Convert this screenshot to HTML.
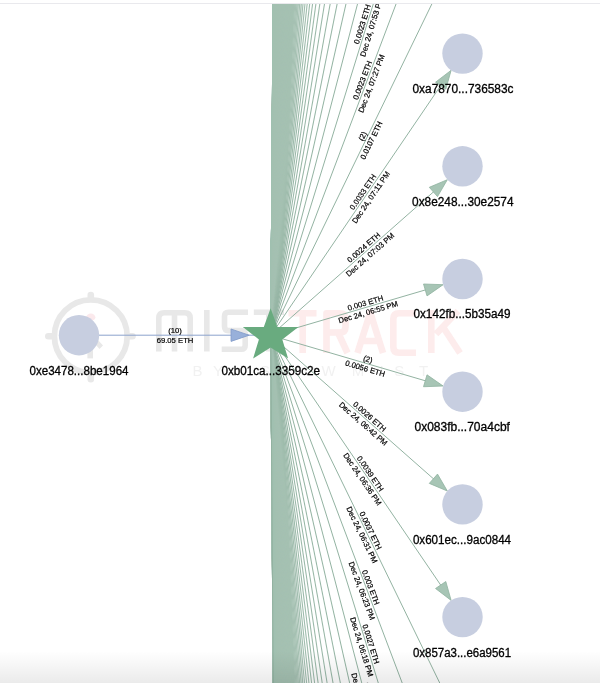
<!DOCTYPE html>
<html><head><meta charset="utf-8"><title>graph</title>
<style>html,body{margin:0;padding:0;background:#fff;}body{width:600px;height:683px;overflow:hidden;position:relative;font-family:"Liberation Sans",sans-serif;}svg{position:absolute;left:0;top:0;display:block;will-change:transform;}text{font-family:"Liberation Sans",sans-serif;}</style>
</head><body>
<svg width="600" height="683" viewBox="0 0 600 683">
<defs><clipPath id="clip"><rect x="0" y="4" width="600" height="679"/></clipPath>
<linearGradient id="fade" x1="0" y1="0" x2="0" y2="1"><stop offset="0" stop-color="#000" stop-opacity="0"/><stop offset="1" stop-color="#000" stop-opacity="0.08"/></linearGradient>
</defs>
<rect width="600" height="683" fill="#fff"/>
<rect x="0" y="3" width="600" height="1" fill="#e9e9ed"/>
<g clip-path="url(#clip)">
<g id="wm">
<circle cx="90.8" cy="336.2" r="36.4" fill="none" stroke="#e8e8e8" stroke-width="5.8"/>
<g stroke="#e8e8e8" stroke-width="6.6" stroke-linecap="round"><line x1="90.8" y1="297" x2="90.8" y2="295"/><line x1="90.8" y1="375.4" x2="90.8" y2="379.2"/><line x1="51.6" y1="336.2" x2="48.3" y2="336.2"/><line x1="130" y1="336.2" x2="132.5" y2="336.2"/></g>
<ellipse cx="90.8" cy="317.2" rx="4.6" ry="3.6" fill="#fbe9ec"/>
<path d="M97.5 339.5 L103 345.5 L99.5 349 L94 343 Z" fill="#e8e8e8"/>
<rect x="87.4" y="348" width="5.6" height="10.4" fill="#e8e8e8"/>
<g fill="none" stroke="#e8e8e8" stroke-width="5.6" stroke-linejoin="round">
<path d="M158.8 351.5 V318.3 Q158.8 312.8 164.3 312.8 H184.7 Q190.2 312.8 190.2 318.3 V351.5 M174.5 312.8 V351.5"/>
<path d="M206.8 310 V351.5"/>
<path d="M248 312.3 H228.5 Q224.5 312.3 224.5 316.3 V326.6 Q224.5 330.6 228.5 330.6 H241.2 Q245.2 330.6 245.2 334.6 V345.3 Q245.2 349.3 241.2 349.3 H221.7"/>
<path d="M253.8 312.3 H284 M268.8 312.3 V351.5"/>
</g>
<g fill="none" stroke="#fdecec" stroke-width="6.6" stroke-linejoin="round">
<path d="M288.5 313.3 H316.5 M302.7 313.3 V353"/>
<path d="M326.5 353 V313.3 H340 Q345.5 313.3 345.5 319 V327 Q345.5 332.5 340 332.5 H326.5 M338 332.5 L347.5 353"/>
<path d="M357.5 353 L370.3 312.5 L383 353 M362 341 H379"/>
<path d="M416 313.3 H399 Q393.3 313.3 393.3 319 V347 Q393.3 352.7 399 352.7 H416"/>
<path d="M431.3 310 V353 M458 311 L436 334 M443 327 L460 353"/>
</g>
<g font-size="15" fill="#f1f1f1" text-anchor="middle">
<text x="197.4" y="376.2">B</text>
<text x="217.9" y="376.2">Y</text>
<text x="265" y="376.2">S</text>
<text x="288" y="376.2">L</text>
<text x="310" y="376.2">O</text>
<text x="328.5" y="376.2">W</text>
<text x="358" y="376.2">M</text>
<text x="381.5" y="376.2">I</text>
<text x="399.3" y="376.2">S</text>
<text x="423.7" y="376.2">T</text>
</g>
</g>
<polygon points="270.30,335.40 270.80,335.40 272.04,334.90 272.55,334.40 273.27,333.40 273.83,332.40 274.30,331.40 275.75,327.40 276.86,323.40 277.80,319.40 278.63,315.40 279.37,311.40 280.06,307.40 280.70,303.40 281.30,299.40 281.87,295.40 282.41,291.40 282.92,287.40 283.42,283.40 283.90,279.40 284.36,275.40 284.80,271.40 285.23,267.40 285.65,263.40 286.06,259.40 286.45,255.40 286.84,251.40 287.22,247.40 287.59,243.40 287.95,239.40 288.30,235.40 288.65,231.40 288.99,227.40 289.32,223.40 289.65,219.40 289.97,215.40 290.29,211.40 290.60,207.40 290.91,203.40 291.21,199.40 291.51,195.40 291.80,191.40 292.09,187.40 292.38,183.40 292.66,179.40 292.94,175.40 293.21,171.40 293.48,167.40 293.75,163.40 294.02,159.40 294.28,155.40 294.54,151.40 294.79,147.40 295.05,143.40 295.30,139.40 295.55,135.40 295.79,131.40 296.04,127.40 296.28,123.40 296.52,119.40 296.76,115.40 296.99,111.40 297.22,107.40 297.46,103.40 297.68,99.40 297.91,95.40 298.14,91.40 298.36,87.40 298.58,83.40 298.80,79.40 299.02,75.40 299.23,71.40 299.45,67.40 299.66,63.40 299.87,59.40 300.08,55.40 300.29,51.40 300.50,47.40 300.70,43.40 300.91,39.40 301.11,35.40 301.31,31.40 301.51,27.40 301.71,23.40 301.91,19.40 302.10,15.40 302.30,11.40 302.49,7.40 302.69,3.40 302.88,-0.60 303.07,-4.60 272.69,-4.60" fill="#a5c1b2" fill-opacity="0.25"/>
<polygon points="270.30,335.40 270.80,335.40 272.04,335.90 272.55,336.40 273.27,337.40 273.83,338.40 274.30,339.40 275.75,343.40 276.86,347.40 277.80,351.40 278.63,355.40 279.37,359.40 280.06,363.40 280.70,367.40 281.30,371.40 281.87,375.40 282.41,379.40 282.92,383.40 283.42,387.40 283.90,391.40 284.36,395.40 284.80,399.40 285.23,403.40 285.65,407.40 286.06,411.40 286.45,415.40 286.84,419.40 287.22,423.40 287.59,427.40 287.95,431.40 288.30,435.40 288.65,439.40 288.99,443.40 289.32,447.40 289.65,451.40 289.97,455.40 290.29,459.40 290.60,463.40 290.91,467.40 291.21,471.40 291.51,475.40 291.80,479.40 292.09,483.40 292.38,487.40 292.66,491.40 292.94,495.40 293.21,499.40 293.48,503.40 293.75,507.40 294.02,511.40 294.28,515.40 294.54,519.40 294.79,523.40 295.05,527.40 295.30,531.40 295.55,535.40 295.79,539.40 296.04,543.40 296.28,547.40 296.52,551.40 296.76,555.40 296.99,559.40 297.22,563.40 297.46,567.40 297.68,571.40 297.91,575.40 298.14,579.40 298.36,583.40 298.58,587.40 298.80,591.40 299.02,595.40 299.23,599.40 299.45,603.40 299.66,607.40 299.87,611.40 300.08,615.40 300.29,619.40 300.50,623.40 300.70,627.40 300.91,631.40 301.11,635.40 301.31,639.40 301.51,643.40 301.71,647.40 301.91,651.40 302.10,655.40 302.30,659.40 302.49,663.40 302.69,667.40 302.88,671.40 303.07,675.40 303.26,679.40 303.45,683.40 303.63,687.40 272.77,687.40" fill="#a5c1b2" fill-opacity="0.25"/>
<polygon points="270.30,335.40 270.80,335.40 271.86,334.90 272.30,334.40 272.92,333.40 273.40,332.40 273.80,331.40 275.04,327.40 276.00,323.40 276.80,319.40 277.51,315.40 278.15,311.40 278.74,307.40 279.29,303.40 279.80,299.40 280.29,295.40 280.75,291.40 281.19,287.40 281.62,283.40 282.02,279.40 282.42,275.40 282.80,271.40 283.17,267.40 283.53,263.40 283.88,259.40 284.22,255.40 284.55,251.40 284.87,247.40 285.19,243.40 285.50,239.40 285.80,235.40 286.10,231.40 286.39,227.40 286.67,223.40 286.96,219.40 287.23,215.40 287.50,211.40 287.77,207.40 288.03,203.40 288.29,199.40 288.55,195.40 288.80,191.40 289.05,187.40 289.29,183.40 289.53,179.40 289.77,175.40 290.01,171.40 290.24,167.40 290.47,163.40 290.70,159.40 290.92,155.40 291.15,151.40 291.37,147.40 291.58,143.40 291.80,139.40 292.01,135.40 292.22,131.40 292.43,127.40 292.64,123.40 292.85,119.40 293.05,115.40 293.25,111.40 293.45,107.40 293.65,103.40 293.84,99.40 294.04,95.40 294.23,91.40 294.42,87.40 294.61,83.40 294.80,79.40 294.99,75.40 295.17,71.40 295.36,67.40 295.54,63.40 295.72,59.40 295.90,55.40 296.08,51.40 296.26,47.40 296.43,43.40 296.61,39.40 296.78,35.40 296.95,31.40 297.12,27.40 297.30,23.40 297.46,19.40 297.63,15.40 297.80,11.40 297.97,7.40 298.13,3.40 298.30,-0.60 298.46,-4.60 272.69,-4.60" fill="#a5c1b2" fill-opacity="0.4"/>
<polygon points="270.30,335.40 270.80,335.40 271.86,335.90 272.30,336.40 272.92,337.40 273.40,338.40 273.80,339.40 275.04,343.40 276.00,347.40 276.80,351.40 277.51,355.40 278.15,359.40 278.74,363.40 279.29,367.40 279.80,371.40 280.29,375.40 280.75,379.40 281.19,383.40 281.62,387.40 282.02,391.40 282.42,395.40 282.80,399.40 283.17,403.40 283.53,407.40 283.88,411.40 284.22,415.40 284.55,419.40 284.87,423.40 285.19,427.40 285.50,431.40 285.80,435.40 286.10,439.40 286.39,443.40 286.67,447.40 286.96,451.40 287.23,455.40 287.50,459.40 287.77,463.40 288.03,467.40 288.29,471.40 288.55,475.40 288.80,479.40 289.05,483.40 289.29,487.40 289.53,491.40 289.77,495.40 290.01,499.40 290.24,503.40 290.47,507.40 290.70,511.40 290.92,515.40 291.15,519.40 291.37,523.40 291.58,527.40 291.80,531.40 292.01,535.40 292.22,539.40 292.43,543.40 292.64,547.40 292.85,551.40 293.05,555.40 293.25,559.40 293.45,563.40 293.65,567.40 293.84,571.40 294.04,575.40 294.23,579.40 294.42,583.40 294.61,587.40 294.80,591.40 294.99,595.40 295.17,599.40 295.36,603.40 295.54,607.40 295.72,611.40 295.90,615.40 296.08,619.40 296.26,623.40 296.43,627.40 296.61,631.40 296.78,635.40 296.95,639.40 297.12,643.40 297.30,647.40 297.46,651.40 297.63,655.40 297.80,659.40 297.97,663.40 298.13,667.40 298.30,671.40 298.46,675.40 298.62,679.40 298.78,683.40 298.94,687.40 272.77,687.40" fill="#a5c1b2" fill-opacity="0.4"/>
<polygon points="270.30,335.40 270.80,335.40 271.70,334.90 272.07,334.40 272.60,333.40 273.00,332.40 273.34,331.40 274.39,327.40 275.20,323.40 275.88,319.40 276.48,315.40 277.02,311.40 277.52,307.40 277.98,303.40 278.42,299.40 278.83,295.40 279.22,291.40 279.60,287.40 279.96,283.40 280.30,279.40 280.64,275.40 280.96,271.40 281.27,267.40 281.58,263.40 281.87,259.40 282.16,255.40 282.44,251.40 282.71,247.40 282.98,243.40 283.24,239.40 283.50,235.40 283.75,231.40 284.00,227.40 284.24,223.40 284.48,219.40 284.71,215.40 284.94,211.40 285.17,207.40 285.39,203.40 285.61,199.40 285.83,195.40 286.04,191.40 286.25,187.40 286.46,183.40 286.66,179.40 286.86,175.40 287.06,171.40 287.26,167.40 287.46,163.40 287.65,159.40 287.84,155.40 288.03,151.40 288.21,147.40 288.40,143.40 288.58,139.40 288.76,135.40 288.94,131.40 289.12,127.40 289.29,123.40 289.47,119.40 289.64,115.40 289.81,111.40 289.98,107.40 290.14,103.40 290.31,99.40 290.47,95.40 290.64,91.40 290.80,87.40 290.96,83.40 291.12,79.40 291.28,75.40 291.44,71.40 291.59,67.40 291.75,63.40 291.90,59.40 292.05,55.40 292.20,51.40 292.35,47.40 292.50,43.40 292.65,39.40 292.80,35.40 292.94,31.40 293.09,27.40 293.23,23.40 293.38,19.40 293.52,15.40 293.66,11.40 293.80,7.40 293.94,3.40 294.08,-0.60 294.22,-4.60 272.69,-4.60" fill="#a5c1b2" fill-opacity="1"/>
<polygon points="270.30,335.40 270.80,335.40 271.70,335.90 272.07,336.40 272.60,337.40 273.00,338.40 273.34,339.40 274.39,343.40 275.20,347.40 275.88,351.40 276.48,355.40 277.02,359.40 277.52,363.40 277.98,367.40 278.42,371.40 278.83,375.40 279.22,379.40 279.60,383.40 279.96,387.40 280.30,391.40 280.64,395.40 280.96,399.40 281.27,403.40 281.58,407.40 281.87,411.40 282.16,415.40 282.44,419.40 282.71,423.40 282.98,427.40 283.24,431.40 283.50,435.40 283.75,439.40 284.00,443.40 284.24,447.40 284.48,451.40 284.71,455.40 284.94,459.40 285.17,463.40 285.39,467.40 285.61,471.40 285.83,475.40 286.04,479.40 286.25,483.40 286.46,487.40 286.66,491.40 286.86,495.40 287.06,499.40 287.26,503.40 287.46,507.40 287.65,511.40 287.84,515.40 288.03,519.40 288.21,523.40 288.40,527.40 288.58,531.40 288.76,535.40 288.94,539.40 289.12,543.40 289.29,547.40 289.47,551.40 289.64,555.40 289.81,559.40 289.98,563.40 290.14,567.40 290.31,571.40 290.47,575.40 290.64,579.40 290.80,583.40 290.96,587.40 291.12,591.40 291.28,595.40 291.44,599.40 291.59,603.40 291.75,607.40 291.90,611.40 292.05,615.40 292.20,619.40 292.35,623.40 292.50,627.40 292.65,631.40 292.80,635.40 292.94,639.40 293.09,643.40 293.23,647.40 293.38,651.40 293.52,655.40 293.66,659.40 293.80,663.40 293.94,667.40 294.08,671.40 294.22,675.40 294.35,679.40 294.49,683.40 294.63,687.40 272.77,687.40" fill="#a5c1b2" fill-opacity="1"/>
<g stroke="#a5c1b2" stroke-width="1.15" stroke-opacity="1" fill="none">
<path d="M270.8 335.4L462.30 -27191.60" stroke="#92b2a1"/>
<path d="M270.8 335.4L462.30 -27078.90"/>
<path d="M270.8 335.4L462.30 -26966.20"/>
<path d="M270.8 335.4L462.30 -26853.50"/>
<path d="M270.8 335.4L462.30 -26740.80"/>
<path d="M270.8 335.4L462.30 -26628.10"/>
<path d="M270.8 335.4L462.30 -26515.40"/>
<path d="M270.8 335.4L462.30 -26402.70"/>
<path d="M270.8 335.4L462.30 -26290.00"/>
<path d="M270.8 335.4L462.30 -26177.30"/>
<path d="M270.8 335.4L462.30 -26064.60"/>
<path d="M270.8 335.4L462.29 -25951.90"/>
<path d="M270.8 335.4L462.29 -25839.20"/>
<path d="M270.8 335.4L462.29 -25726.50"/>
<path d="M270.8 335.4L462.29 -25613.80"/>
<path d="M270.8 335.4L462.29 -25501.10"/>
<path d="M270.8 335.4L462.29 -25388.40"/>
<path d="M270.8 335.4L462.29 -25275.70"/>
<path d="M270.8 335.4L462.29 -25163.00"/>
<path d="M270.8 335.4L462.29 -25050.30"/>
<path d="M270.8 335.4L462.29 -24937.60"/>
<path d="M270.8 335.4L462.29 -24824.90"/>
<path d="M270.8 335.4L462.28 -24712.20"/>
<path d="M270.8 335.4L462.28 -24599.50"/>
<path d="M270.8 335.4L462.28 -24486.80"/>
<path d="M270.8 335.4L462.28 -24374.10"/>
<path d="M270.8 335.4L462.28 -24261.40"/>
<path d="M270.8 335.4L462.28 -24148.70"/>
<path d="M270.8 335.4L462.28 -24036.00"/>
<path d="M270.8 335.4L462.28 -23923.30"/>
<path d="M270.8 335.4L462.28 -23810.60"/>
<path d="M270.8 335.4L462.28 -23697.90"/>
<path d="M270.8 335.4L462.27 -23585.20"/>
<path d="M270.8 335.4L462.27 -23472.50"/>
<path d="M270.8 335.4L462.27 -23359.80"/>
<path d="M270.8 335.4L462.27 -23247.10"/>
<path d="M270.8 335.4L462.27 -23134.40"/>
<path d="M270.8 335.4L462.27 -23021.70"/>
<path d="M270.8 335.4L462.27 -22909.00"/>
<path d="M270.8 335.4L462.27 -22796.30"/>
<path d="M270.8 335.4L462.27 -22683.60"/>
<path d="M270.8 335.4L462.26 -22570.90"/>
<path d="M270.8 335.4L462.26 -22458.20"/>
<path d="M270.8 335.4L462.26 -22345.50"/>
<path d="M270.8 335.4L462.26 -22232.80"/>
<path d="M270.8 335.4L462.26 -22120.10"/>
<path d="M270.8 335.4L462.26 -22007.40"/>
<path d="M270.8 335.4L462.26 -21894.70"/>
<path d="M270.8 335.4L462.26 -21782.00"/>
<path d="M270.8 335.4L462.25 -21669.30"/>
<path d="M270.8 335.4L462.25 -21556.60"/>
<path d="M270.8 335.4L462.25 -21443.90"/>
<path d="M270.8 335.4L462.25 -21331.20"/>
<path d="M270.8 335.4L462.25 -21218.50"/>
<path d="M270.8 335.4L462.25 -21105.80"/>
<path d="M270.8 335.4L462.25 -20993.10"/>
<path d="M270.8 335.4L462.25 -20880.40"/>
<path d="M270.8 335.4L462.24 -20767.70"/>
<path d="M270.8 335.4L462.24 -20655.00"/>
<path d="M270.8 335.4L462.24 -20542.30"/>
<path d="M270.8 335.4L462.24 -20429.60"/>
<path d="M270.8 335.4L462.24 -20316.90"/>
<path d="M270.8 335.4L462.24 -20204.20"/>
<path d="M270.8 335.4L462.24 -20091.50"/>
<path d="M270.8 335.4L462.23 -19978.80"/>
<path d="M270.8 335.4L462.23 -19866.10"/>
<path d="M270.8 335.4L462.23 -19753.40"/>
<path d="M270.8 335.4L462.23 -19640.70"/>
<path d="M270.8 335.4L462.23 -19528.00"/>
<path d="M270.8 335.4L462.23 -19415.30"/>
<path d="M270.8 335.4L462.23 -19302.60"/>
<path d="M270.8 335.4L462.22 -19189.90"/>
<path d="M270.8 335.4L462.22 -19077.20"/>
<path d="M270.8 335.4L462.22 -18964.50"/>
<path d="M270.8 335.4L462.22 -18851.80"/>
<path d="M270.8 335.4L462.22 -18739.10"/>
<path d="M270.8 335.4L462.22 -18626.40"/>
<path d="M270.8 335.4L462.21 -18513.70"/>
<path d="M270.8 335.4L462.21 -18401.00"/>
<path d="M270.8 335.4L462.21 -18288.30"/>
<path d="M270.8 335.4L462.21 -18175.60"/>
<path d="M270.8 335.4L462.21 -18062.90"/>
<path d="M270.8 335.4L462.20 -17950.20"/>
<path d="M270.8 335.4L462.20 -17837.50"/>
<path d="M270.8 335.4L462.20 -17724.80"/>
<path d="M270.8 335.4L462.20 -17612.10"/>
<path d="M270.8 335.4L462.20 -17499.40"/>
<path d="M270.8 335.4L462.20 -17386.70"/>
<path d="M270.8 335.4L462.19 -17274.00"/>
<path d="M270.8 335.4L462.19 -17161.30"/>
<path d="M270.8 335.4L462.19 -17048.60"/>
<path d="M270.8 335.4L462.19 -16935.90"/>
<path d="M270.8 335.4L462.19 -16823.20"/>
<path d="M270.8 335.4L462.18 -16710.50"/>
<path d="M270.8 335.4L462.18 -16597.80"/>
<path d="M270.8 335.4L462.18 -16485.10"/>
<path d="M270.8 335.4L462.18 -16372.40"/>
<path d="M270.8 335.4L462.17 -16259.70"/>
<path d="M270.8 335.4L462.17 -16147.00"/>
<path d="M270.8 335.4L462.17 -16034.30"/>
<path d="M270.8 335.4L462.17 -15921.60"/>
<path d="M270.8 335.4L462.17 -15808.90"/>
<path d="M270.8 335.4L462.16 -15696.20"/>
<path d="M270.8 335.4L462.16 -15583.50"/>
<path d="M270.8 335.4L462.16 -15470.80"/>
<path d="M270.8 335.4L462.16 -15358.10"/>
<path d="M270.8 335.4L462.15 -15245.40"/>
<path d="M270.8 335.4L462.15 -15132.70"/>
<path d="M270.8 335.4L462.15 -15020.00"/>
<path d="M270.8 335.4L462.15 -14907.30"/>
<path d="M270.8 335.4L462.14 -14794.60"/>
<path d="M270.8 335.4L462.14 -14681.90"/>
<path d="M270.8 335.4L462.14 -14569.20"/>
<path d="M270.8 335.4L462.14 -14456.50"/>
<path d="M270.8 335.4L462.13 -14343.80"/>
<path d="M270.8 335.4L462.13 -14231.10"/>
<path d="M270.8 335.4L462.13 -14118.40"/>
<path d="M270.8 335.4L462.12 -14005.70"/>
<path d="M270.8 335.4L462.12 -13893.00"/>
<path d="M270.8 335.4L462.12 -13780.30"/>
<path d="M270.8 335.4L462.11 -13667.60"/>
<path d="M270.8 335.4L462.11 -13554.90"/>
<path d="M270.8 335.4L462.11 -13442.20"/>
<path d="M270.8 335.4L462.11 -13329.50"/>
<path d="M270.8 335.4L462.10 -13216.80"/>
<path d="M270.8 335.4L462.10 -13104.10"/>
<path d="M270.8 335.4L462.10 -12991.40"/>
<path d="M270.8 335.4L462.09 -12878.70"/>
<path d="M270.8 335.4L462.09 -12766.00"/>
<path d="M270.8 335.4L462.08 -12653.30"/>
<path d="M270.8 335.4L462.08 -12540.60"/>
<path d="M270.8 335.4L462.08 -12427.90"/>
<path d="M270.8 335.4L462.07 -12315.20"/>
<path d="M270.8 335.4L462.07 -12202.50"/>
<path d="M270.8 335.4L462.07 -12089.80"/>
<path d="M270.8 335.4L462.06 -11977.10"/>
<path d="M270.8 335.4L462.06 -11864.40"/>
<path d="M270.8 335.4L462.05 -11751.70"/>
<path d="M270.8 335.4L462.05 -11639.00"/>
<path d="M270.8 335.4L462.05 -11526.30"/>
<path d="M270.8 335.4L462.04 -11413.60"/>
<path d="M270.8 335.4L462.04 -11300.90"/>
<path d="M270.8 335.4L462.03 -11188.20"/>
<path d="M270.8 335.4L462.03 -11075.50"/>
<path d="M270.8 335.4L462.02 -10962.80"/>
<path d="M270.8 335.4L462.02 -10850.10"/>
<path d="M270.8 335.4L462.01 -10737.40"/>
<path d="M270.8 335.4L462.01 -10624.70"/>
<path d="M270.8 335.4L462.00 -10512.00"/>
<path d="M270.8 335.4L462.00 -10399.30"/>
<path d="M270.8 335.4L461.99 -10286.60"/>
<path d="M270.8 335.4L461.99 -10173.90"/>
<path d="M270.8 335.4L461.98 -10061.20"/>
<path d="M270.8 335.4L461.98 -9948.50"/>
<path d="M270.8 335.4L461.97 -9835.80"/>
<path d="M270.8 335.4L461.96 -9723.11"/>
<path d="M270.8 335.4L461.96 -9610.41"/>
<path d="M270.8 335.4L461.95 -9497.71"/>
<path d="M270.8 335.4L461.95 -9385.01"/>
<path d="M270.8 335.4L461.94 -9272.31"/>
<path d="M270.8 335.4L461.93 -9159.61"/>
<path d="M270.8 335.4L461.93 -9046.91"/>
<path d="M270.8 335.4L461.92 -8934.21"/>
<path d="M270.8 335.4L461.91 -8821.51"/>
<path d="M270.8 335.4L461.90 -8708.81"/>
<path d="M270.8 335.4L461.90 -8596.11"/>
<path d="M270.8 335.4L461.89 -8483.41"/>
<path d="M270.8 335.4L461.88 -8370.71"/>
<path d="M270.8 335.4L461.87 -8258.01"/>
<path d="M270.8 335.4L461.86 -8145.31"/>
<path d="M270.8 335.4L461.86 -8032.61"/>
<path d="M270.8 335.4L461.85 -7919.91"/>
<path d="M270.8 335.4L461.84 -7807.21"/>
<path d="M270.8 335.4L461.83 -7694.51"/>
<path d="M270.8 335.4L461.82 -7581.81"/>
<path d="M270.8 335.4L461.81 -7469.11"/>
<path d="M270.8 335.4L461.80 -7356.41"/>
<path d="M270.8 335.4L461.79 -7243.71"/>
<path d="M270.8 335.4L461.78 -7131.01"/>
<path d="M270.8 335.4L461.77 -7018.31"/>
<path d="M270.8 335.4L461.76 -6905.61"/>
<path d="M270.8 335.4L461.74 -6792.91"/>
<path d="M270.8 335.4L461.73 -6680.21"/>
<path d="M270.8 335.4L461.72 -6567.51"/>
<path d="M270.8 335.4L461.71 -6454.81"/>
<path d="M270.8 335.4L461.69 -6342.11"/>
<path d="M270.8 335.4L461.68 -6229.41"/>
<path d="M270.8 335.4L461.67 -6116.71"/>
<path d="M270.8 335.4L461.65 -6004.01"/>
<path d="M270.8 335.4L461.64 -5891.31"/>
<path d="M270.8 335.4L461.62 -5778.61"/>
<path d="M270.8 335.4L461.60 -5665.91"/>
<path d="M270.8 335.4L461.59 -5553.21"/>
<path d="M270.8 335.4L461.57 -5440.52"/>
<path d="M270.8 335.4L461.55 -5327.82"/>
<path d="M270.8 335.4L461.53 -5215.12"/>
<path d="M270.8 335.4L461.51 -5102.42"/>
<path d="M270.8 335.4L461.49 -4989.72"/>
<path d="M270.8 335.4L461.47 -4877.02"/>
<path d="M270.8 335.4L461.45 -4764.32"/>
<path d="M270.8 335.4L461.42 -4651.62"/>
<path d="M270.8 335.4L461.40 -4538.92"/>
<path d="M270.8 335.4L461.37 -4426.22"/>
<path d="M270.8 335.4L461.35 -4313.52"/>
<path d="M270.8 335.4L461.32 -4200.82"/>
<path d="M270.8 335.4L461.29 -4088.13"/>
<path d="M270.8 335.4L461.26 -3975.43"/>
<path d="M270.8 335.4L461.22 -3862.73"/>
<path d="M270.8 335.4L461.19 -3750.03"/>
<path d="M270.8 335.4L461.15 -3637.33"/>
<path d="M270.8 335.4L461.11 -3524.63"/>
<path d="M270.8 335.4L461.07 -3411.94"/>
<path d="M270.8 335.4L461.03 -3299.24"/>
<path d="M270.8 335.4L460.98 -3186.54"/>
<path d="M270.8 335.4L460.93 -3073.84"/>
<path d="M270.8 335.4L460.88 -2961.15"/>
<path d="M270.8 335.4L460.82 -2848.45"/>
<path d="M270.8 335.4L460.76 -2735.75"/>
<path d="M270.8 335.4L460.69 -2623.06"/>
<path d="M270.8 335.4L460.62 -2510.36"/>
<path d="M270.8 335.4L460.55 -2397.67"/>
<path d="M270.8 335.4L460.46 -2284.97"/>
<path d="M270.8 335.4L460.37 -2172.28"/>
<path d="M270.8 335.4L460.28 -2059.59"/>
<path d="M270.8 335.4L460.17 -1946.90"/>
<path d="M270.8 335.4L460.05 -1834.21"/>
<path d="M270.8 335.4L459.92 -1721.52" stroke="#a4c0b1" stroke-width="1.14"/>
<path d="M270.8 335.4L459.77 -1608.83" stroke="#a3bfb0" stroke-width="1.13"/>
<path d="M270.8 335.4L459.61 -1496.15" stroke="#a1beaf" stroke-width="1.12"/>
<path d="M270.8 335.4L459.42 -1383.47" stroke="#a0bdad" stroke-width="1.11"/>
<path d="M270.8 335.4L459.21 -1270.79" stroke="#9ebcac" stroke-width="1.09"/>
<path d="M270.8 335.4L458.97 -1158.12" stroke="#9dbbab" stroke-width="1.08"/>
<path d="M270.8 335.4L458.70 -1045.46" stroke="#9bb9a9" stroke-width="1.07"/>
<path d="M270.8 335.4L458.37 -932.80" stroke="#9ab8a8" stroke-width="1.06"/>
<path d="M270.8 335.4L457.99 -820.16" stroke="#98b7a7" stroke-width="1.04"/>
<path d="M270.8 335.4L457.53 -707.54" stroke="#97b6a5" stroke-width="1.03"/>
<path d="M270.8 335.4L456.97 -594.95" stroke="#95b5a4" stroke-width="1.02"/>
<path d="M270.8 335.4L456.26 -482.40" stroke="#94b4a3" stroke-width="1.01"/>
<path d="M270.8 335.4L455.36 -369.92" stroke="#93b3a2" stroke-width="1.00"/>
<path d="M270.8 335.4L454.17 -257.56" stroke="#93b3a2" stroke-width="1.00"/>
<path d="M270.8 335.4L452.53 -145.42" stroke="#93b3a2" stroke-width="1.00"/>
<path d="M270.8 335.4L450.17 -33.74" stroke="#93b3a2" stroke-width="1.00"/>
<path d="M270.8 335.4L446.64 76.92" stroke="#93b3a2" stroke-width="1.00"/>
<path d="M270.8 335.4L441.35 184.95" stroke="#93b3a2" stroke-width="1.00"/>
<path d="M270.8 335.4L435.45 286.96" stroke="#93b3a2" stroke-width="1.00"/>
<path d="M270.8 335.4L435.44 383.75" stroke="#93b3a2" stroke-width="1.00"/>
<path d="M270.8 335.4L441.35 485.75" stroke="#93b3a2" stroke-width="1.00"/>
<path d="M270.8 335.4L446.63 593.79" stroke="#93b3a2" stroke-width="1.00"/>
<path d="M270.8 335.4L450.17 704.44" stroke="#93b3a2" stroke-width="1.00"/>
<path d="M270.8 335.4L452.53 816.12" stroke="#93b3a2" stroke-width="1.00"/>
<path d="M270.8 335.4L454.17 928.26" stroke="#93b3a2" stroke-width="1.00"/>
<path d="M270.8 335.4L455.36 1040.62" stroke="#93b3a2" stroke-width="1.00"/>
<path d="M270.8 335.4L456.26 1153.10" stroke="#94b4a3" stroke-width="1.01"/>
<path d="M270.8 335.4L456.97 1265.65" stroke="#95b5a4" stroke-width="1.02"/>
<path d="M270.8 335.4L457.53 1378.24" stroke="#97b6a5" stroke-width="1.03"/>
<path d="M270.8 335.4L457.99 1490.86" stroke="#98b7a7" stroke-width="1.04"/>
<path d="M270.8 335.4L458.37 1603.50" stroke="#9ab8a8" stroke-width="1.06"/>
<path d="M270.8 335.4L458.70 1716.16" stroke="#9bb9a9" stroke-width="1.07"/>
<path d="M270.8 335.4L458.97 1828.82" stroke="#9dbbab" stroke-width="1.08"/>
<path d="M270.8 335.4L459.21 1941.49" stroke="#9ebcac" stroke-width="1.09"/>
<path d="M270.8 335.4L459.42 2054.17" stroke="#a0bdad" stroke-width="1.11"/>
<path d="M270.8 335.4L459.61 2166.85" stroke="#a1beaf" stroke-width="1.12"/>
<path d="M270.8 335.4L459.77 2279.53" stroke="#a3bfb0" stroke-width="1.13"/>
<path d="M270.8 335.4L459.92 2392.22" stroke="#a4c0b1" stroke-width="1.14"/>
<path d="M270.8 335.4L460.05 2504.91"/>
<path d="M270.8 335.4L460.17 2617.60"/>
<path d="M270.8 335.4L460.28 2730.29"/>
<path d="M270.8 335.4L460.37 2842.98"/>
<path d="M270.8 335.4L460.46 2955.67"/>
<path d="M270.8 335.4L460.55 3068.37"/>
<path d="M270.8 335.4L460.62 3181.06"/>
<path d="M270.8 335.4L460.69 3293.76"/>
<path d="M270.8 335.4L460.76 3406.45"/>
<path d="M270.8 335.4L460.82 3519.15"/>
<path d="M270.8 335.4L460.88 3631.85"/>
<path d="M270.8 335.4L460.93 3744.54"/>
<path d="M270.8 335.4L460.98 3857.24"/>
<path d="M270.8 335.4L461.03 3969.94"/>
<path d="M270.8 335.4L461.07 4082.64"/>
<path d="M270.8 335.4L461.11 4195.33"/>
<path d="M270.8 335.4L461.15 4308.03"/>
<path d="M270.8 335.4L461.19 4420.73"/>
<path d="M270.8 335.4L461.22 4533.43"/>
<path d="M270.8 335.4L461.26 4646.13"/>
<path d="M270.8 335.4L461.29 4758.83"/>
<path d="M270.8 335.4L461.32 4871.52"/>
<path d="M270.8 335.4L461.35 4984.22"/>
<path d="M270.8 335.4L461.37 5096.92"/>
<path d="M270.8 335.4L461.40 5209.62"/>
<path d="M270.8 335.4L461.42 5322.32"/>
<path d="M270.8 335.4L461.45 5435.02"/>
<path d="M270.8 335.4L461.47 5547.72"/>
<path d="M270.8 335.4L461.49 5660.42"/>
<path d="M270.8 335.4L461.51 5773.12"/>
<path d="M270.8 335.4L461.53 5885.82"/>
<path d="M270.8 335.4L461.55 5998.52"/>
<path d="M270.8 335.4L461.57 6111.22"/>
<path d="M270.8 335.4L461.59 6223.91"/>
<path d="M270.8 335.4L461.60 6336.61"/>
<path d="M270.8 335.4L461.62 6449.31"/>
<path d="M270.8 335.4L461.64 6562.01"/>
<path d="M270.8 335.4L461.65 6674.71"/>
<path d="M270.8 335.4L461.67 6787.41"/>
<path d="M270.8 335.4L461.68 6900.11"/>
<path d="M270.8 335.4L461.69 7012.81"/>
<path d="M270.8 335.4L461.71 7125.51"/>
<path d="M270.8 335.4L461.72 7238.21"/>
<path d="M270.8 335.4L461.73 7350.91"/>
<path d="M270.8 335.4L461.74 7463.61"/>
<path d="M270.8 335.4L461.76 7576.31"/>
<path d="M270.8 335.4L461.77 7689.01"/>
<path d="M270.8 335.4L461.78 7801.71"/>
<path d="M270.8 335.4L461.79 7914.41"/>
<path d="M270.8 335.4L461.80 8027.11"/>
<path d="M270.8 335.4L461.81 8139.81"/>
<path d="M270.8 335.4L461.82 8252.51"/>
<path d="M270.8 335.4L461.83 8365.21"/>
<path d="M270.8 335.4L461.84 8477.91"/>
<path d="M270.8 335.4L461.85 8590.61"/>
<path d="M270.8 335.4L461.86 8703.31"/>
<path d="M270.8 335.4L461.86 8816.01"/>
<path d="M270.8 335.4L461.87 8928.71"/>
<path d="M270.8 335.4L461.88 9041.41"/>
<path d="M270.8 335.4L461.89 9154.11"/>
<path d="M270.8 335.4L461.90 9266.81"/>
<path d="M270.8 335.4L461.90 9379.51"/>
<path d="M270.8 335.4L461.91 9492.21"/>
<path d="M270.8 335.4L461.92 9604.91"/>
<path d="M270.8 335.4L461.93 9717.61"/>
<path d="M270.8 335.4L461.93 9830.31"/>
<path d="M270.8 335.4L461.94 9943.01"/>
<path d="M270.8 335.4L461.95 10055.71"/>
<path d="M270.8 335.4L461.95 10168.41"/>
<path d="M270.8 335.4L461.96 10281.11"/>
<path d="M270.8 335.4L461.96 10393.81"/>
<path d="M270.8 335.4L461.97 10506.50"/>
<path d="M270.8 335.4L461.98 10619.20"/>
<path d="M270.8 335.4L461.98 10731.90"/>
<path d="M270.8 335.4L461.99 10844.60"/>
<path d="M270.8 335.4L461.99 10957.30"/>
<path d="M270.8 335.4L462.00 11070.00"/>
<path d="M270.8 335.4L462.00 11182.70"/>
<path d="M270.8 335.4L462.01 11295.40"/>
<path d="M270.8 335.4L462.01 11408.10"/>
<path d="M270.8 335.4L462.02 11520.80"/>
<path d="M270.8 335.4L462.02 11633.50"/>
<path d="M270.8 335.4L462.03 11746.20"/>
<path d="M270.8 335.4L462.03 11858.90"/>
<path d="M270.8 335.4L462.04 11971.60"/>
<path d="M270.8 335.4L462.04 12084.30"/>
<path d="M270.8 335.4L462.05 12197.00"/>
<path d="M270.8 335.4L462.05 12309.70"/>
<path d="M270.8 335.4L462.05 12422.40"/>
<path d="M270.8 335.4L462.06 12535.10"/>
<path d="M270.8 335.4L462.06 12647.80"/>
<path d="M270.8 335.4L462.07 12760.50"/>
<path d="M270.8 335.4L462.07 12873.20"/>
<path d="M270.8 335.4L462.07 12985.90"/>
<path d="M270.8 335.4L462.08 13098.60"/>
<path d="M270.8 335.4L462.08 13211.30"/>
<path d="M270.8 335.4L462.08 13324.00"/>
<path d="M270.8 335.4L462.09 13436.70"/>
<path d="M270.8 335.4L462.09 13549.40"/>
<path d="M270.8 335.4L462.10 13662.10"/>
<path d="M270.8 335.4L462.10 13774.80"/>
<path d="M270.8 335.4L462.10 13887.50"/>
<path d="M270.8 335.4L462.11 14000.20"/>
<path d="M270.8 335.4L462.11 14112.90"/>
<path d="M270.8 335.4L462.11 14225.60"/>
<path d="M270.8 335.4L462.11 14338.30"/>
<path d="M270.8 335.4L462.12 14451.00"/>
<path d="M270.8 335.4L462.12 14563.70"/>
<path d="M270.8 335.4L462.12 14676.40"/>
<path d="M270.8 335.4L462.13 14789.10"/>
<path d="M270.8 335.4L462.13 14901.80"/>
<path d="M270.8 335.4L462.13 15014.50"/>
<path d="M270.8 335.4L462.14 15127.20"/>
<path d="M270.8 335.4L462.14 15239.90"/>
<path d="M270.8 335.4L462.14 15352.60"/>
<path d="M270.8 335.4L462.14 15465.30"/>
<path d="M270.8 335.4L462.15 15578.00"/>
<path d="M270.8 335.4L462.15 15690.70"/>
<path d="M270.8 335.4L462.15 15803.40"/>
<path d="M270.8 335.4L462.15 15916.10"/>
<path d="M270.8 335.4L462.16 16028.80"/>
<path d="M270.8 335.4L462.16 16141.50"/>
<path d="M270.8 335.4L462.16 16254.20"/>
<path d="M270.8 335.4L462.16 16366.90"/>
<path d="M270.8 335.4L462.17 16479.60"/>
<path d="M270.8 335.4L462.17 16592.30"/>
<path d="M270.8 335.4L462.17 16705.00"/>
<path d="M270.8 335.4L462.17 16817.70"/>
<path d="M270.8 335.4L462.17 16930.40"/>
<path d="M270.8 335.4L462.18 17043.10"/>
<path d="M270.8 335.4L462.18 17155.80"/>
<path d="M270.8 335.4L462.18 17268.50"/>
<path d="M270.8 335.4L462.18 17381.20"/>
<path d="M270.8 335.4L462.19 17493.90"/>
<path d="M270.8 335.4L462.19 17606.60"/>
<path d="M270.8 335.4L462.19 17719.30"/>
<path d="M270.8 335.4L462.19 17832.00"/>
<path d="M270.8 335.4L462.19 17944.70"/>
<path d="M270.8 335.4L462.20 18057.40"/>
<path d="M270.8 335.4L462.20 18170.10"/>
<path d="M270.8 335.4L462.20 18282.80"/>
<path d="M270.8 335.4L462.20 18395.50"/>
<path d="M270.8 335.4L462.20 18508.20"/>
<path d="M270.8 335.4L462.20 18620.90"/>
<path d="M270.8 335.4L462.21 18733.60"/>
<path d="M270.8 335.4L462.21 18846.30"/>
<path d="M270.8 335.4L462.21 18959.00"/>
<path d="M270.8 335.4L462.21 19071.70"/>
<path d="M270.8 335.4L462.21 19184.40"/>
<path d="M270.8 335.4L462.22 19297.10"/>
<path d="M270.8 335.4L462.22 19409.80"/>
<path d="M270.8 335.4L462.22 19522.50"/>
<path d="M270.8 335.4L462.22 19635.20"/>
<path d="M270.8 335.4L462.22 19747.90"/>
<path d="M270.8 335.4L462.22 19860.60"/>
<path d="M270.8 335.4L462.23 19973.30"/>
<path d="M270.8 335.4L462.23 20086.00"/>
<path d="M270.8 335.4L462.23 20198.70"/>
<path d="M270.8 335.4L462.23 20311.40"/>
<path d="M270.8 335.4L462.23 20424.10"/>
<path d="M270.8 335.4L462.23 20536.80"/>
<path d="M270.8 335.4L462.23 20649.50"/>
<path d="M270.8 335.4L462.24 20762.20"/>
<path d="M270.8 335.4L462.24 20874.90"/>
<path d="M270.8 335.4L462.24 20987.60"/>
<path d="M270.8 335.4L462.24 21100.30"/>
<path d="M270.8 335.4L462.24 21213.00"/>
<path d="M270.8 335.4L462.24 21325.70"/>
<path d="M270.8 335.4L462.24 21438.40"/>
<path d="M270.8 335.4L462.25 21551.10"/>
<path d="M270.8 335.4L462.25 21663.80"/>
<path d="M270.8 335.4L462.25 21776.50"/>
<path d="M270.8 335.4L462.25 21889.20"/>
<path d="M270.8 335.4L462.25 22001.90"/>
<path d="M270.8 335.4L462.25 22114.60"/>
<path d="M270.8 335.4L462.25 22227.30"/>
<path d="M270.8 335.4L462.25 22340.00"/>
<path d="M270.8 335.4L462.26 22452.70"/>
<path d="M270.8 335.4L462.26 22565.40"/>
<path d="M270.8 335.4L462.26 22678.10"/>
<path d="M270.8 335.4L462.26 22790.80"/>
<path d="M270.8 335.4L462.26 22903.50"/>
<path d="M270.8 335.4L462.26 23016.20"/>
<path d="M270.8 335.4L462.26 23128.90"/>
<path d="M270.8 335.4L462.26 23241.60"/>
<path d="M270.8 335.4L462.27 23354.30"/>
<path d="M270.8 335.4L462.27 23467.00"/>
<path d="M270.8 335.4L462.27 23579.70"/>
<path d="M270.8 335.4L462.27 23692.40"/>
<path d="M270.8 335.4L462.27 23805.10"/>
<path d="M270.8 335.4L462.27 23917.80"/>
<path d="M270.8 335.4L462.27 24030.50"/>
<path d="M270.8 335.4L462.27 24143.20"/>
<path d="M270.8 335.4L462.27 24255.90"/>
<path d="M270.8 335.4L462.28 24368.60"/>
<path d="M270.8 335.4L462.28 24481.30"/>
<path d="M270.8 335.4L462.28 24594.00"/>
<path d="M270.8 335.4L462.28 24706.70"/>
<path d="M270.8 335.4L462.28 24819.40"/>
<path d="M270.8 335.4L462.28 24932.10"/>
<path d="M270.8 335.4L462.28 25044.80"/>
<path d="M270.8 335.4L462.28 25157.50"/>
<path d="M270.8 335.4L462.28 25270.20"/>
<path d="M270.8 335.4L462.28 25382.90"/>
<path d="M270.8 335.4L462.29 25495.60"/>
<path d="M270.8 335.4L462.29 25608.30"/>
<path d="M270.8 335.4L462.29 25721.00"/>
<path d="M270.8 335.4L462.29 25833.70"/>
<path d="M270.8 335.4L462.29 25946.40"/>
<path d="M270.8 335.4L462.29 26059.10"/>
<path d="M270.8 335.4L462.29 26171.80"/>
<path d="M270.8 335.4L462.29 26284.50"/>
<path d="M270.8 335.4L462.29 26397.20"/>
<path d="M270.8 335.4L462.29 26509.90"/>
<path d="M270.8 335.4L462.29 26622.60"/>
<path d="M270.8 335.4L462.30 26735.30"/>
<path d="M270.8 335.4L462.30 26848.00"/>
<path d="M270.8 335.4L462.30 26960.70" stroke="#92b2a1"/>
</g>
<path d="M453.67 -40.93L451.12 -21.49L439.97 -26.91Z" fill="#a7c5b5" stroke="#8fb3a0" stroke-width="0.8" stroke-linejoin="miter"/>
<path d="M451.14 70.30L445.80 89.17L435.55 82.19Z" fill="#a7c5b5" stroke="#8fb3a0" stroke-width="0.8" stroke-linejoin="miter"/>
<path d="M447.35 179.66L437.50 196.62L429.30 187.32Z" fill="#a7c5b5" stroke="#8fb3a0" stroke-width="0.8" stroke-linejoin="miter"/>
<path d="M443.12 284.70L427.03 295.90L423.53 284.00Z" fill="#a7c5b5" stroke="#8fb3a0" stroke-width="0.8" stroke-linejoin="miter"/>
<path d="M443.12 386.01L423.53 386.72L427.02 374.82Z" fill="#a7c5b5" stroke="#8fb3a0" stroke-width="0.8" stroke-linejoin="miter"/>
<path d="M447.35 491.04L429.30 483.39L437.50 474.09Z" fill="#a7c5b5" stroke="#8fb3a0" stroke-width="0.8" stroke-linejoin="miter"/>
<path d="M451.14 600.40L435.55 588.51L445.80 581.53Z" fill="#a7c5b5" stroke="#8fb3a0" stroke-width="0.8" stroke-linejoin="miter"/>
<path d="M453.67 711.63L439.96 697.61L451.11 692.19Z" fill="#a7c5b5" stroke="#8fb3a0" stroke-width="0.8" stroke-linejoin="miter"/>
<path d="M455.36 823.61L442.98 808.40L454.58 804.01Z" fill="#a7c5b5" stroke="#8fb3a0" stroke-width="0.8" stroke-linejoin="miter"/>
<line x1="79" y1="335.2" x2="270.8" y2="335.2" stroke="#8ba3cc" stroke-width="1"/>
<path d="M249.2 335.2L231 329V341.4Z" fill="#98b0da" stroke="#8099c8" stroke-width="0.8"/>
<g font-size="7.7" fill="#000" stroke="#000" stroke-width="0.2" text-anchor="middle">
<g transform="translate(366.65 25.45) rotate(-72.82)"><text y="-1.8">0.0023 ETH</text><text y="7.8">Dec 24, 07:53 PM</text></g>
<g transform="translate(366.65 81.80) rotate(-69.30)"><text y="-1.8">0.0023 ETH</text><text y="7.8">Dec 24, 07:27 PM</text></g>
<g transform="translate(366.65 138.15) rotate(-64.08)"><text y="-1.8">(2)</text><text y="7.8">0.0107 ETH</text></g>
<g transform="translate(366.65 194.50) rotate(-55.77)"><text y="-1.8">0.0033 ETH</text><text y="7.8">Dec 24, 07:11 PM</text></g>
<g transform="translate(366.65 250.85) rotate(-41.42)"><text y="-1.8">0.0024 ETH</text><text y="7.8">Dec 24, 07:03 PM</text></g>
<g transform="translate(366.65 307.20) rotate(-16.39)"><text y="-1.8">0.003 ETH</text><text y="7.8">Dec 24, 06:55 PM</text></g>
<g transform="translate(366.65 363.55) rotate(16.37)"><text y="-1.8">(2)</text><text y="7.8">0.0056 ETH</text></g>
<g transform="translate(366.65 419.90) rotate(41.40)"><text y="-1.8">0.0026 ETH</text><text y="7.8">Dec 24, 06:42 PM</text></g>
<g transform="translate(366.65 476.25) rotate(55.76)"><text y="-1.8">0.0039 ETH</text><text y="7.8">Dec 24, 06:36 PM</text></g>
<g transform="translate(366.65 532.60) rotate(64.08)"><text y="-1.8">0.0037 ETH</text><text y="7.8">Dec 24, 06:31 PM</text></g>
<g transform="translate(366.65 588.95) rotate(69.29)"><text y="-1.8">0.003 ETH</text><text y="7.8">Dec 24, 06:23 PM</text></g>
<g transform="translate(366.65 645.30) rotate(72.81)"><text y="-1.8">0.0027 ETH</text><text y="7.8">Dec 24, 06:18 PM</text></g>
<g transform="translate(366.65 701.65) rotate(75.33)"><text y="-1.8">0.002 ETH</text><text y="7.8">Dec 24, 06:12 PM</text></g>
<g transform="translate(175 335.2)"><text y="-1.8">(10)</text><text y="7.8">69.05 ETH</text></g>
</g>
<g fill="#c7cee0">
<circle cx="79" cy="335.2" r="20.2"/>
<circle cx="462.5" cy="53.60" r="20.2"/>
<circle cx="462.5" cy="166.30" r="20.2"/>
<circle cx="462.5" cy="279.00" r="20.2"/>
<circle cx="462.5" cy="391.70" r="20.2"/>
<circle cx="462.5" cy="504.40" r="20.2"/>
<circle cx="462.5" cy="617.10" r="20.2"/>
</g>
<polygon points="270.6,308.2 277.4,326.9 298.4,326.9 282.3,339.4 288.1,358.6 270.6,347.6 253.1,358.6 258.9,339.4 242.8,326.9 263.8,326.9" fill="#69ab7f"/>
<g font-size="12" fill="#000" stroke="#000" stroke-width="0.3">
<text x="412.50" y="93.00" textLength="101.00" lengthAdjust="spacingAndGlyphs">0xa7870...736583c</text>
<text x="412.10" y="205.70" textLength="101.40" lengthAdjust="spacingAndGlyphs">0x8e248...30e2574</text>
<text x="413.50" y="318.40" textLength="97.00" lengthAdjust="spacingAndGlyphs">0x142fb...5b35a49</text>
<text x="414.50" y="431.10" textLength="95.40" lengthAdjust="spacingAndGlyphs">0x083fb...70a4cbf</text>
<text x="412.90" y="543.80" textLength="98.20" lengthAdjust="spacingAndGlyphs">0x601ec...9ac0844</text>
<text x="412.90" y="656.50" textLength="98.20" lengthAdjust="spacingAndGlyphs">0x857a3...e6a9561</text>
<text x="29.50" y="374.60" textLength="99.00" lengthAdjust="spacingAndGlyphs">0xe3478...8be1964</text>
<text x="221.50" y="374.60" textLength="98.60" lengthAdjust="spacingAndGlyphs">0xb01ca...3359c2e</text>
</g>
</g>
<rect x="0" y="651" width="600" height="32" fill="url(#fade)"/>
</svg>
</body></html>
